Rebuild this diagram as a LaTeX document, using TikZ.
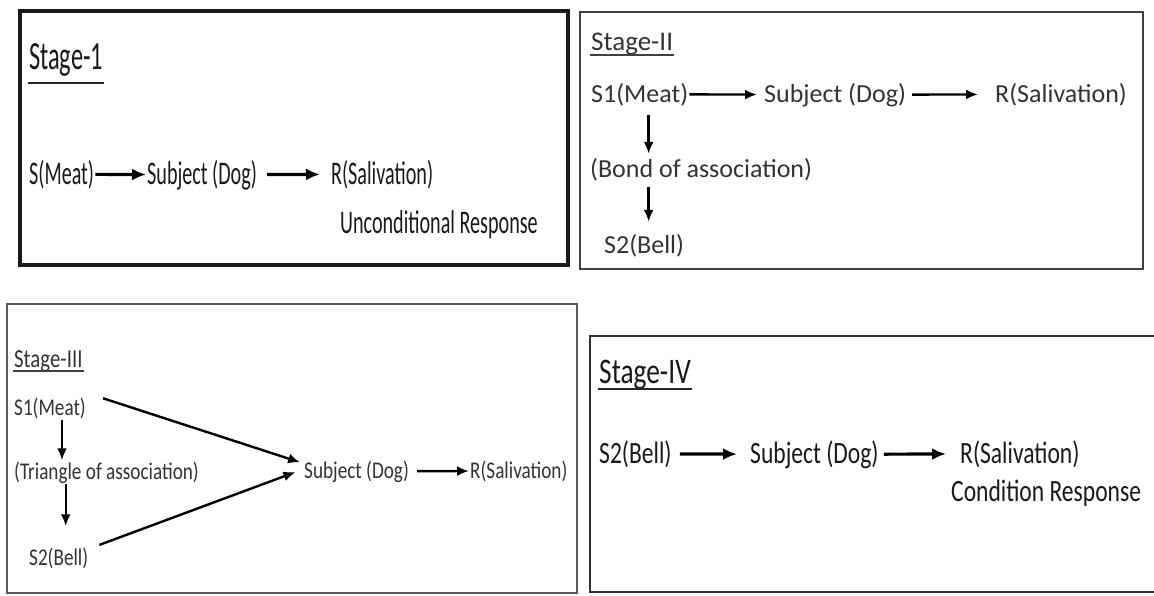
\documentclass[tikz,border=0pt]{standalone}
\usepackage{fontspec}
\setmainfont{Carlito}
\newfontfamily\narrowA[FakeStretch=0.61]{Carlito}
\newfontfamily\narrowC[FakeStretch=0.8]{Carlito}
\newfontfamily\narrowD[FakeStretch=0.76]{Carlito}
\usetikzlibrary{arrows.meta}
\tikzstyle{txt} = [inner sep=1pt, anchor=base west, text=black!90]
\tikzstyle{headA} = [txt, font=\fontsize{40}{46}\narrowA]
\tikzstyle{one} = [txt, font=\fontsize{33}{38}\narrowA]
\tikzstyle{headB} = [txt, font=\fontsize{27}{32}\selectfont, text=black!80]
\tikzstyle{two} = [txt, font=\fontsize{26}{30}\selectfont, text=black!80]
\tikzstyle{headC} = [txt, font=\fontsize{26}{30}\narrowC, text=black!80]
\tikzstyle{three} = [txt, font=\fontsize{24}{28}\narrowC, text=black!80]
\tikzstyle{headD} = [txt, font=\fontsize{36}{42}\narrowD]
\tikzstyle{four} = [txt, font=\fontsize{31}{36}\narrowD]
\tikzstyle{arr} = [-{Latex[length=12pt,width=10pt]}, line width=2.4pt]
\tikzstyle{bigarr} = [-{Latex[length=14pt,width=12pt]}, line width=3.2pt]
\tikzstyle{ul} = [line width=1.8pt]

\begin{document}
\begin{tikzpicture}[x=1pt, y=-1pt]
\useasboundingbox (0,0) rectangle (1154,595);
% the four boxes
\draw[line width=4pt, black!90] (20,11) rectangle (568,265);
\draw[line width=2.5pt, black!75] (580,12) rectangle (1143,269);
\draw[line width=2pt, black!65] (7,304) rectangle (577,593);
\draw[line width=2.5pt, black!80] (590,336) rectangle (1170,592);

% Stage-1
\node[headA] (st1) at (28,69) {Stage-1};
\draw[ul, black!85] ([yshift=-14pt]st1.base west) -- ([yshift=-14pt]st1.base east);
\node[one] (meat1) at (28,184) {S(Meat)};
\node[one] (dog1) at (146,184) {Subject (Dog)};
\node[one] (sal1) at (330,184) {R(Salivation)};
\node[one] (ur1) at (339,233) {Unconditional Response};
\draw[bigarr] (meat1) -- (dog1);
\draw[bigarr, shorten <=9pt, shorten >=10pt] (dog1) -- (sal1);

% Stage-II
\node[headB] (st2) at (590,50) {Stage-II};
\draw[ul, black!75] ([yshift=-5pt]st2.base west) -- ([yshift=-5pt]st2.base east);
\node[two] (meat2) at (590,102) {S1(Meat)};
\node[two] (dog2) at (763,102) {Subject (Dog)};
\node[two] (sal2) at (994,102) {R(Salivation)};
\node[two] (bond) at (589,177) {(Bond of association)};
\node[two] (bell2) at (603,253) {S2(Bell)};
\draw[arr, shorten >=6pt] (meat2) -- (dog2);
\draw[arr, shorten <=5pt, shorten >=16pt] (dog2) -- (sal2);
\draw[arr, shorten <=8pt, shorten >=3pt] ([xshift=9pt]meat2.south) -- ([xshift=9pt]meat2.south |- bond.north);
\draw[arr, shorten <=5pt, shorten >=11pt] ([xshift=9pt]meat2.south |- bond.south) -- ([xshift=9pt]meat2.south |- bell2.north);

% Stage-III
\node[headC] (st3) at (13,367) {Stage-III};
\draw[ul, black!75] ([yshift=-4pt]st3.base west) -- ([yshift=-4pt]st3.base east);
\node[three] (meat3) at (13,415) {S1(Meat)};
\node[three] (tri) at (13,479) {(Triangle of association)};
\node[three] (bell3) at (28,565) {S2(Bell)};
\node[three] (dog3) at (303,478) {Subject (Dog)};
\node[three] (sal3) at (469,478) {R(Salivation)};
\draw[arr] ([xshift=12pt]meat3.south) -- ([xshift=12pt]meat3.south |- tri.north);
\draw[arr, shorten >=20pt] ([xshift=7pt]bell3.north |- tri.south) -- ([xshift=7pt]bell3.north);
\draw[arr, shorten >=3pt] ([xshift=16pt,yshift=-2pt]meat3.north east) -- ([yshift=8pt]dog3.west);
\draw[arr, shorten >=8pt] ([xshift=10pt,yshift=13pt]bell3.east) -- ([yshift=2pt]dog3.west);
\draw[arr, shorten <=7pt] (dog3) -- (sal3);

% Stage-IV
\node[headD] (st4) at (598,383) {Stage-IV};
\draw[ul, black!85] ([yshift=-6pt]st4.base west) -- ([yshift=-6pt]st4.base east);
\node[four] (bell4) at (598,463) {S2(Bell)};
\node[four] (dog4) at (749,463) {Subject (Dog)};
\node[four] (sal4) at (959,463) {R(Salivation)};
\node[four] (cr4) at (950,501) {Condition Response};
\draw[bigarr, shorten <=7pt, shorten >=12pt] (bell4) -- (dog4);
\draw[bigarr, shorten <=4pt, shorten >=13pt] (dog4) -- (sal4);
\end{tikzpicture}
\end{document}
